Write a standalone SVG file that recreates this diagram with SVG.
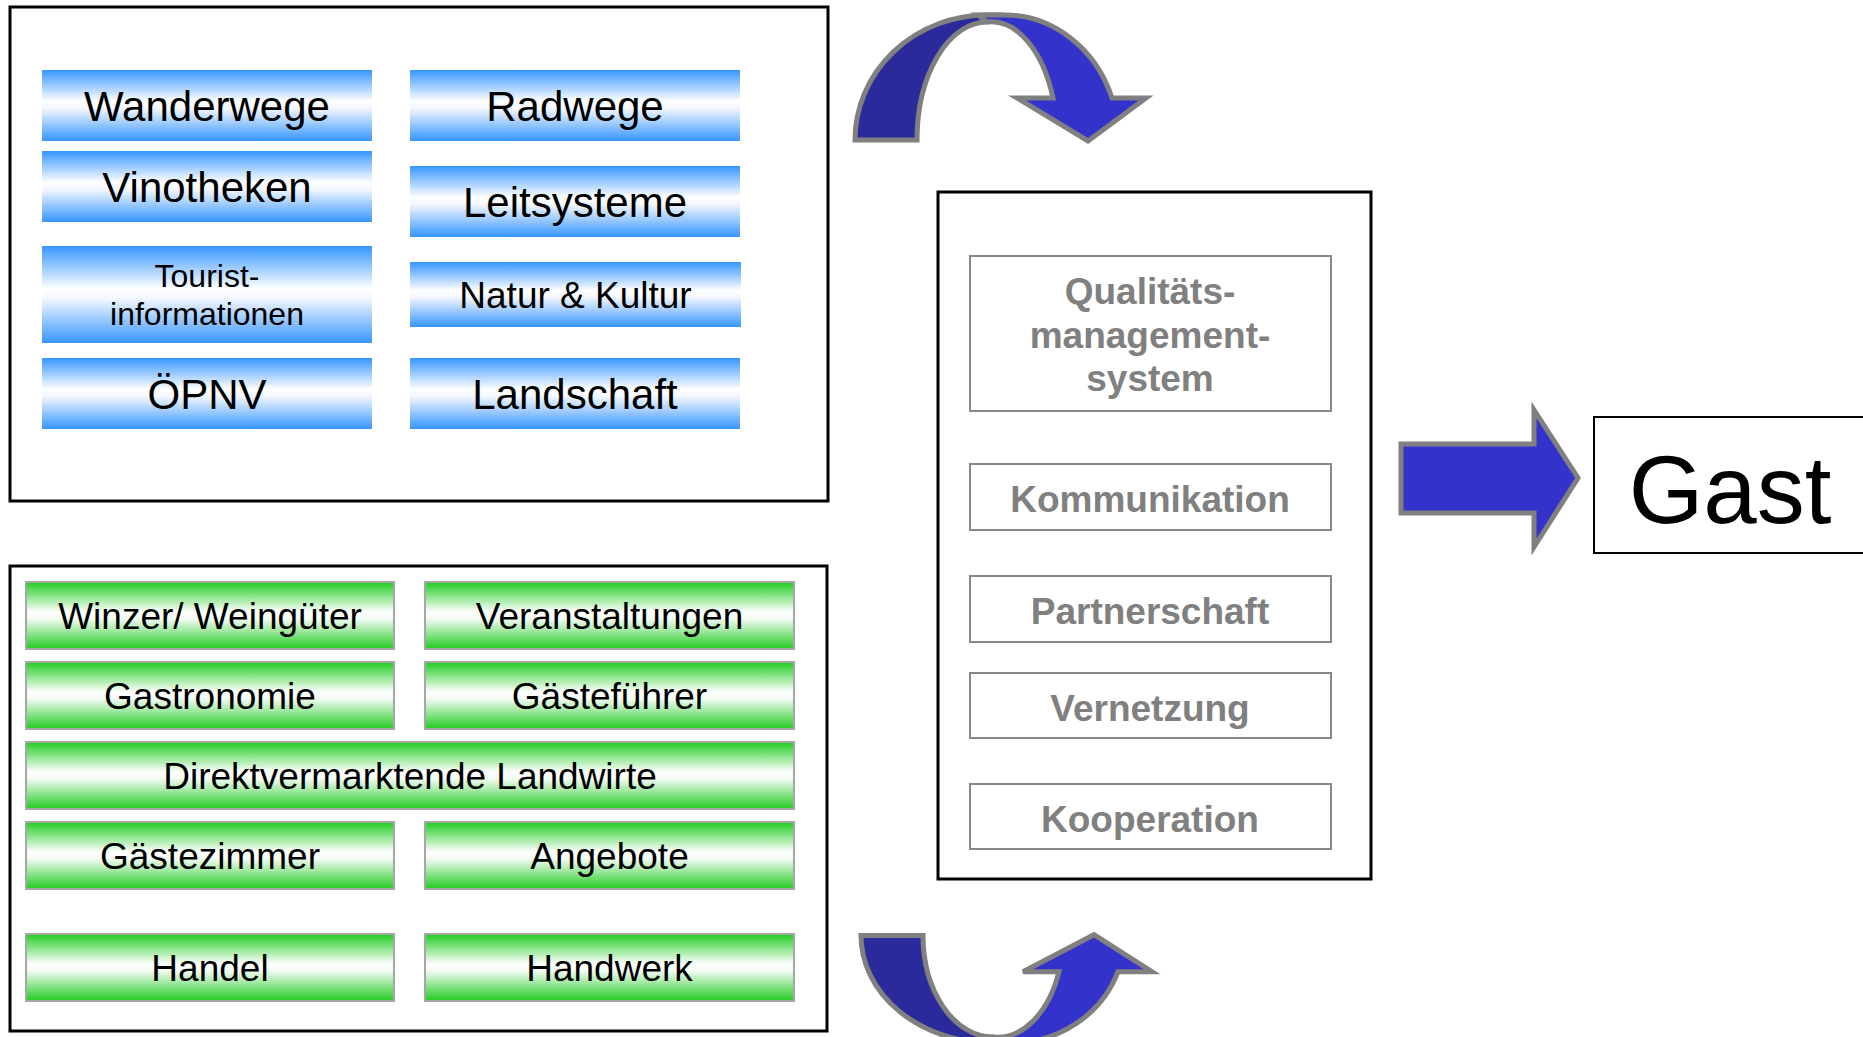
<svg xmlns="http://www.w3.org/2000/svg" width="1863" height="1037" viewBox="0 0 1863 1037">
<defs>
<linearGradient id="gBlue" x1="0" y1="0" x2="0" y2="1">
<stop offset="0" stop-color="#3696ff"/>
<stop offset="0.44" stop-color="#ffffff"/>
<stop offset="0.54" stop-color="#f4f7ff"/>
<stop offset="1" stop-color="#3696ff"/>
</linearGradient>
<linearGradient id="gGreen" x1="0" y1="0" x2="0" y2="1">
<stop offset="0" stop-color="#22cc22"/>
<stop offset="0.45" stop-color="#ffffff"/>
<stop offset="0.55" stop-color="#f2fbf2"/>
<stop offset="1" stop-color="#22cc22"/>
</linearGradient>
</defs>
<style>
text{font-family:"Liberation Sans",Arial,Helvetica,sans-serif;text-anchor:middle;fill:#000}
.frame{fill:#fff;stroke:#000;stroke-width:3}
.blue{fill:url(#gBlue);stroke:none}
.green{fill:url(#gGreen);stroke:#a6a6a6;stroke-width:2}
.qbox{fill:#fff;stroke:#888;stroke-width:2}
.t42{font-size:42px}
.t37{font-size:37px}
.t32{font-size:32px}
.q{font-size:37px;font-weight:bold;fill:#808080}
.arr{stroke:#808080;stroke-width:5;stroke-linejoin:miter}
.dark{fill:#2a2a9c}
.light{fill:#3333cc}
</style>
<rect width="1863" height="1037" fill="#fff"/>

<g id="infrastructure">
<rect class="frame" x="10" y="7" width="818" height="494"/>
<g id="wanderwege"><rect class="blue" x="42" y="70" width="330" height="71"/><text class="t42" x="207" y="120.5">Wanderwege</text></g>
<g id="radwege"><rect class="blue" x="410" y="70" width="330" height="71"/><text class="t42" x="575" y="120.5">Radwege</text></g>
<g id="vinotheken"><rect class="blue" x="42" y="151" width="330" height="71"/><text class="t42" x="207" y="201.5">Vinotheken</text></g>
<g id="leitsysteme"><rect class="blue" x="410" y="166" width="330" height="71"/><text class="t42" x="575" y="216.5">Leitsysteme</text></g>
<g id="touristinfo"><rect class="blue" x="42" y="246" width="330" height="97"/><text class="t32" x="207" y="287">Tourist-</text><text class="t32" x="207" y="325">informationen</text></g>
<g id="naturkultur"><rect class="blue" x="410" y="262" width="331" height="65"/><text class="t37" x="575.5" y="307.5">Natur &amp; Kultur</text></g>
<g id="oepnv"><rect class="blue" x="42" y="358" width="330" height="71"/><text class="t42" x="207" y="408.5">ÖPNV</text></g>
<g id="landschaft"><rect class="blue" x="410" y="358" width="330" height="71"/><text class="t42" x="575" y="408.5">Landschaft</text></g>
</g>

<g id="anbieter">
<rect class="frame" x="10" y="566" width="817" height="465"/>
<g id="winzer"><rect class="green" x="26" y="582" width="368" height="67"/><text class="t37" x="210" y="628.5">Winzer/ Weingüter</text></g>
<g id="veranstaltungen"><rect class="green" x="425" y="582" width="369" height="67"/><text class="t37" x="609.5" y="628.5">Veranstaltungen</text></g>
<g id="gastronomie"><rect class="green" x="26" y="662" width="368" height="67"/><text class="t37" x="210" y="708.5">Gastronomie</text></g>
<g id="gaestefuehrer"><rect class="green" x="425" y="662" width="369" height="67"/><text class="t37" x="609.5" y="708.5">Gästeführer</text></g>
<g id="direktvermarkter"><rect class="green" x="26" y="742" width="768" height="67"/><text class="t37" x="410" y="788.5">Direktvermarktende Landwirte</text></g>
<g id="gaestezimmer"><rect class="green" x="26" y="822" width="368" height="67"/><text class="t37" x="210" y="868.5">Gästezimmer</text></g>
<g id="angebote"><rect class="green" x="425" y="822" width="369" height="67"/><text class="t37" x="609.5" y="868.5">Angebote</text></g>
<g id="handel"><rect class="green" x="26" y="934" width="368" height="67"/><text class="t37" x="210" y="980.5">Handel</text></g>
<g id="handwerk"><rect class="green" x="425" y="934" width="369" height="67"/><text class="t37" x="609.5" y="980.5">Handwerk</text></g>
</g>

<g id="management">
<rect class="frame" x="938" y="192" width="433" height="687"/>
<g id="qms"><rect class="qbox" x="970" y="256" width="361" height="155"/><text class="q" x="1150" y="304">Qualitäts-</text><text class="q" x="1150" y="348">management-</text><text class="q" x="1150" y="391">system</text></g>
<g id="kommunikation"><rect class="qbox" x="970" y="464" width="361" height="66"/><text class="q" x="1150" y="512">Kommunikation</text></g>
<g id="partnerschaft"><rect class="qbox" x="970" y="576" width="361" height="66"/><text class="q" x="1150" y="624">Partnerschaft</text></g>
<g id="vernetzung"><rect class="qbox" x="970" y="673" width="361" height="65"/><text class="q" x="1150" y="720.5">Vernetzung</text></g>
<g id="kooperation"><rect class="qbox" x="970" y="784" width="361" height="65"/><text class="q" x="1150" y="831.5">Kooperation</text></g>
</g>

<g id="gast">
<rect x="1594" y="417" width="290" height="136" fill="#fff" stroke="#000" stroke-width="2"/>
<text x="1730" y="523" style="font-size:96px">Gast</text>
</g>

<g id="connectors">
<g id="arrow-top">
<path class="arr dark" d="M855,140 A132,125 0 0 1 987,15 L996,15 L987,22 A70,118 0 0 0 917,140 Z"/>
<path class="arr light" d="M978,15 L1005,15 A114,125 0 0 1 1112,98 L1146,98 L1088,141 L1017,98 L1053,98 A66,118 0 0 0 987,22 Z"/>
</g>
<g id="arrow-bottom" transform="translate(6,1056) scale(1,-0.86)">
<path class="arr dark" vector-effect="non-scaling-stroke" d="M855,140 A132,125 0 0 1 987,15 L996,15 L987,22 A70,118 0 0 0 917,140 Z"/>
<path class="arr light" vector-effect="non-scaling-stroke" d="M978,15 L1005,15 A114,125 0 0 1 1112,98 L1146,98 L1088,141 L1017,98 L1053,98 A66,118 0 0 0 987,22 Z"/>
</g>
<polygon id="arrow-gast" class="arr light" points="1401,444 1534,444 1534,410 1578,478 1534,547 1534,513 1401,513"/>
</g>
</svg>
